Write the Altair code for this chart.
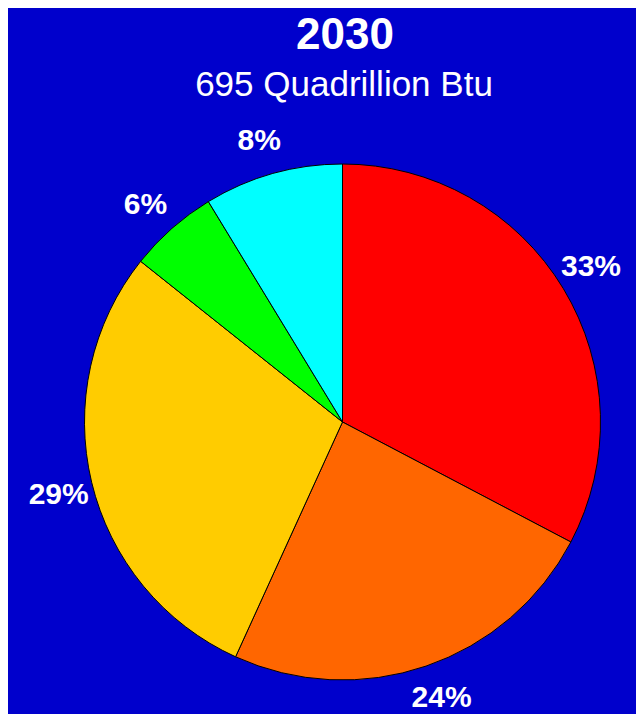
import altair as alt
import pandas as pd

categories = ["Oil", "Coal", "Natural Gas", "Nuclear", "Renewables"]
shares = [32.7, 24.1, 28.9, 5.6, 8.7]
labels = ["33%", "24%", "29%", "6%", "8%"]
colors = ["#FF0000", "#FF6600", "#FFCC00", "#00FF00", "#00FFFF"]
title_lines = ["2030", "695 Quadrillion Btu"]

df = pd.DataFrame({
    "category": categories,
    "share": shares,
    "label": labels,
    "order": list(range(len(categories))),
})

CX, CY, R = 334.5, 414, 258

base = alt.Chart(df).encode(
    theta=alt.Theta("share:Q", stack=True),
    order=alt.Order("order:Q"),
)

pie = base.mark_arc(outerRadius=R, stroke="black", strokeWidth=1).encode(
    color=alt.Color("category:N",
                    scale=alt.Scale(domain=categories, range=colors),
                    legend=None),
    x=alt.value(CX), y=alt.value(CY),
)

text = base.mark_text(radius=293, thetaOffset=-0.015, font="Liberation Sans",
                      fontWeight="bold", fontSize=30, color="white",
                      align="center", baseline="middle").encode(
    text="label:N", x=alt.value(CX), y=alt.value(CY),
)

tdf = pd.DataFrame({"t": title_lines, "i": [0, 1]})
t1 = alt.Chart(tdf.iloc[[0]]).mark_text(font="Liberation Sans", fontWeight="bold",
                                          fontSize=44, color="white",
                                          align="center", baseline="alphabetic").encode(
    text="t:N", x=alt.value(337), y=alt.value(40.5))
t2 = alt.Chart(tdf.iloc[[1]]).mark_text(font="Liberation Sans", fontSize=35,
                                          color="white", align="center",
                                          baseline="alphabetic").encode(
    text="t:N", x=alt.value(336), y=alt.value(88))

chart = alt.layer(pie, text, t1, t2).properties(
    width=628, height=706,
    autosize=alt.AutoSizeParams(type="none"),
    padding=0,
    background="#0000CC",
).configure_view(stroke=None)

chart.save("out.html", embed_options={"renderer": "svg", "actions": False})
